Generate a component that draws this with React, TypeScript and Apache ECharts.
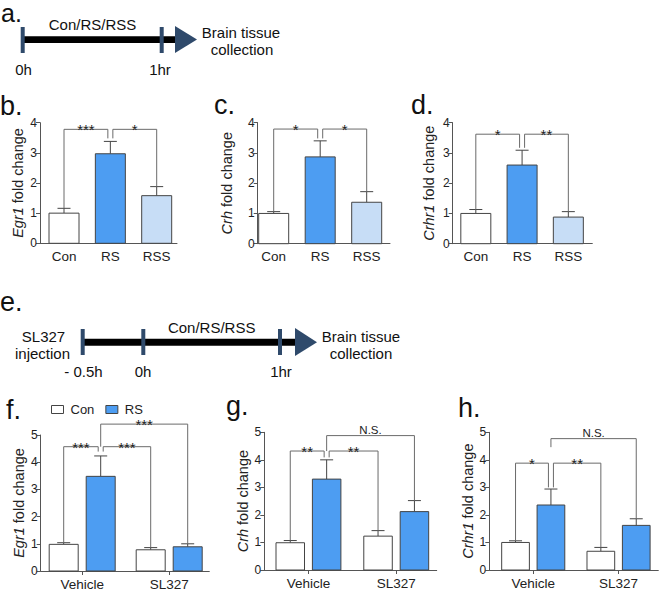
import React, { useEffect, useRef } from "react";
import * as echarts from "echarts";

// ---------------- data ----------------
const TOP_CATS = ["Con", "RS", "RSS"];
const GROUP_CATS = ["Vehicle", "SL327"];
const SERIES_NAMES = ["Con", "RS"];
const GENES_TOP = ["Egr1", "Crh", "Crhr1"];
const GENES_BOTTOM = ["Egr1", "Crh", "Crhr1"];

// panel b-d: mean and SEM for Con, RS, RSS
const egr1Mean = [1.0, 2.97, 1.58];
const egr1Sem = [0.16, 0.41, 0.3];
const crhMean = [1.0, 2.87, 1.37];
const crhSem = [0.06, 0.53, 0.35];
const crhr1Mean = [1.0, 2.6, 0.88];
const crhr1Sem = [0.13, 0.49, 0.18];

// panel f-h: [Vehicle, SL327]
const egr1ConMean = [0.98, 0.78];
const egr1ConSem = [0.06, 0.08];
const egr1RsMean = [3.48, 0.89];
const egr1RsSem = [0.75, 0.11];
const crhConMean = [0.99, 1.23];
const crhConSem = [0.08, 0.2];
const crhRsMean = [3.3, 2.12];
const crhRsSem = [0.7, 0.4];
const crhr1ConMean = [1.0, 0.68];
const crhr1ConSem = [0.06, 0.14];
const crhr1RsMean = [2.36, 1.62];
const crhr1RsSem = [0.58, 0.24];

// significance: [label, fromBar, toBar, bracketY, legEndFrom, legEndTo, sideFrom, sideTo]
const egr1Sig: any[] = [
  ["***", 0, 1, 3.78, 1.16, 3.48, 0, -1],
  ["*", 1, 2, 3.78, 3.48, 1.88, 1, 0],
];
const crhSig: any[] = [
  ["*", 0, 1, 3.79, 1.06, 3.48, 0, -1],
  ["*", 1, 2, 3.79, 3.48, 1.72, 1, 0],
];
const crhr1Sig: any[] = [
  ["*", 0, 1, 3.62, 1.12, 3.17, 0, -1],
  ["**", 1, 2, 3.62, 3.17, 1.06, 1, 0],
];
// bottom bars: 0 Con-Vehicle, 1 RS-Vehicle, 2 Con-SL327, 3 RS-SL327
const egr1SigB: any[] = [
  ["***", 0, 1, 4.57, 1.04, 4.39, 0, -1],
  ["***", 1, 2, 4.57, 4.39, 0.86, 1, 0],
  ["***", 1, 3, 5.4, 4.57, 1.0, 0, 0],
];
const crhSigB: any[] = [
  ["**", 0, 1, 4.32, 1.07, 4.09, 0, -1],
  ["**", 1, 2, 4.32, 4.09, 1.43, 1, 0],
  ["N.S.", 1, 3, 4.88, 4.32, 2.52, 0, 0],
];
const crhr1SigB: any[] = [
  ["*", 0, 1, 3.88, 1.06, 3.0, 0, -1],
  ["**", 1, 2, 3.88, 3.0, 0.82, 1, 0],
  ["N.S.", 1, 3, 4.77, 4.46, 1.86, 0, 0],
];

const TOP_Y_TICKS = [0, 1, 2, 3, 4];
const BOTTOM_Y_TICKS = [0, 1, 2, 3, 4, 5];

// ---------------- styles / layout ----------------
const NARROW = "'Liberation Sans Narrow','Arial Narrow','Liberation Sans',Arial,sans-serif";
const SANS = "'Liberation Sans',Arial,Helvetica,sans-serif";
const AXIS_C = "#555";
const EDGE_C = "#444";
const BRACKET_C = "#6a6a6a";
const TEXT_C = "#222";
const RS_BLUE = "#4d9df2";
const RSS_BLUE = "#c7ddf6";
const NAVY = "#2f4a6b";
const TOP_FILLS = ["#ffffff", RS_BLUE, RSS_BLUE];

const TOP_LAYOUT = [
  { left: 40, top: 122.7, width: 137, height: 120.6, xMin: 0.482, xMax: 3.438, nameGap: 15 },
  { left: 257.7, top: 122.7, width: 132.3, height: 121, xMin: 0.656, xMax: 3.501, nameGap: 23 },
  { left: 452.7, top: 122.7, width: 139.6, height: 121, xMin: 0.5, xMax: 3.518, nameGap: 16 },
];
const BOTTOM_LAYOUT = [
  { left: 40.7, top: 435, width: 168.6, height: 136.7, xMin: 0.523, xMax: 2.461, nameGap: 14, off: 18.5, bw: 29 },
  { left: 264.3, top: 432.3, width: 172.4, height: 137.7, xMin: 0.497, xMax: 2.461, nameGap: 12, off: 18.2, bw: 28.5 },
  { left: 489.3, top: 432.3, width: 169, height: 137.7, xMin: 0.485, xMax: 2.466, nameGap: 11, off: 17.7, bw: 27.7 },
];
const TOP_BW = 30;
const CAP = 13;
const LEG = 2.5;

function yAxisOpt(i: number, gene: string, ticks: number[], gap: number) {
  return {
    gridIndex: i,
    type: "value",
    min: ticks[0],
    max: ticks[ticks.length - 1],
    interval: 1,
    axisLine: { show: true, lineStyle: { color: AXIS_C, width: 1 } },
    axisTick: { show: true, length: 4, lineStyle: { color: AXIS_C } },
    axisLabel: { fontSize: 12, fontFamily: NARROW, color: TEXT_C, margin: 3 },
    splitLine: { show: false },
    name: `{i|${gene}} fold change`,
    nameLocation: "middle",
    nameGap: gap,
    nameTextStyle: {
      fontSize: 14.5,
      fontFamily: NARROW,
      color: TEXT_C,
      rich: { i: { fontStyle: "italic", fontSize: 14.5, fontFamily: NARROW, color: TEXT_C } },
    },
  };
}

function xAxisOpt(i: number, L: any, cats: string[], ticks: boolean) {
  const vals = cats.map((_, k) => k + 1);
  return {
    gridIndex: i,
    type: "value",
    min: L.xMin,
    max: L.xMax,
    axisLine: { show: true, onZero: false, lineStyle: { color: AXIS_C, width: 1 } },
    axisTick: { show: ticks, customValues: vals, length: 4, lineStyle: { color: AXIS_C } },
    axisLabel: {
      customValues: vals,
      formatter: (v: number) => cats[Math.round(v) - 1] ?? "",
      fontSize: 13.5,
      fontFamily: NARROW,
      color: TEXT_C,
      margin: 6,
    },
    splitLine: { show: false },
  };
}

function errorAndBar(api: any, cx: number, v: number, e: number, x: number, bw: number, fill: string) {
  const base = api.coord([x, 0]);
  const top = api.coord([x, v]);
  const et = api.coord([x, v + e]);
  return {
    type: "group",
    children: [
      { type: "line", shape: { x1: cx, y1: top[1], x2: cx, y2: et[1] }, style: { stroke: EDGE_C, lineWidth: 1 } },
      { type: "line", shape: { x1: cx - CAP / 2, y1: et[1], x2: cx + CAP / 2, y2: et[1] }, style: { stroke: EDGE_C, lineWidth: 1 } },
      {
        type: "rect",
        shape: { x: cx - bw / 2, y: top[1], width: bw, height: base[1] - top[1] },
        style: { fill, stroke: EDGE_C, lineWidth: 1 },
      },
    ],
  };
}

function sigSeries(i: number, sig: any[], barX: (api: any, idx: number) => number, fs: number) {
  return {
    type: "custom",
    xAxisIndex: i,
    yAxisIndex: i,
    clip: false,
    silent: true,
    z: 5,
    data: sig.map((r) => r.slice(1)),
    renderItem: (params: any, api: any) => {
      const a = api.value(0);
      const b = api.value(1);
      const yl = api.coord([1, api.value(2)])[1];
      const ya = api.coord([1, api.value(3)])[1];
      const yb = api.coord([1, api.value(4)])[1];
      const xa = barX(api, a) + api.value(5) * LEG;
      const xb = barX(api, b) + api.value(6) * LEG;
      const label = sig[params.dataIndex][0];
      const ns = label === "N.S.";
      const st = { stroke: BRACKET_C, lineWidth: 1 };
      return {
        type: "group",
        children: [
          { type: "polyline", shape: { points: [[xa, ya], [xa, yl], [xb, yl], [xb, yb]] }, style: { ...st, fill: "none" } },
          {
            type: "text",
            x: (xa + xb) / 2,
            y: ns ? yl - 6 : yl + 0.5,
            style: {
              text: label,
              fontSize: ns ? 11.5 : fs,
              fontFamily: ns ? NARROW : SANS,
              fill: TEXT_C,
              align: "center",
              textAlign: "center",
              verticalAlign: "middle",
              textVerticalAlign: "middle",
            },
          },
        ],
      };
    },
  };
}

function buildOption() {
  const grid: any[] = [];
  const xAxis: any[] = [];
  const yAxis: any[] = [];
  const series: any[] = [];

  const topMeans = [egr1Mean, crhMean, crhr1Mean];
  const topSems = [egr1Sem, crhSem, crhr1Sem];
  const topSig = [egr1Sig, crhSig, crhr1Sig];

  TOP_LAYOUT.forEach((L, i) => {
    grid.push({ left: L.left, top: L.top, width: L.width, height: L.height, containLabel: false });
    xAxis.push(xAxisOpt(i, L, TOP_CATS, false));
    yAxis.push(yAxisOpt(i, GENES_TOP[i], TOP_Y_TICKS, L.nameGap));
    const means = topMeans[i];
    const sems = topSems[i];
    series.push({
      type: "custom",
      name: "top" + i,
      xAxisIndex: i,
      yAxisIndex: i,
      clip: false,
      data: means.map((m, k) => [k + 1, m, sems[k]]),
      renderItem: (params: any, api: any) => {
        const x = api.value(0);
        const cx = api.coord([x, 0])[0];
        return errorAndBar(api, cx, api.value(1), api.value(2), x, TOP_BW, TOP_FILLS[params.dataIndex]);
      },
    });
    series.push(sigSeries(i, topSig[i], (api, idx) => api.coord([idx + 1, 0])[0], 15));
  });

  const conMeans = [egr1ConMean, crhConMean, crhr1ConMean];
  const conSems = [egr1ConSem, crhConSem, crhr1ConSem];
  const rsMeans = [egr1RsMean, crhRsMean, crhr1RsMean];
  const rsSems = [egr1RsSem, crhRsSem, crhr1RsSem];
  const botSig = [egr1SigB, crhSigB, crhr1SigB];

  BOTTOM_LAYOUT.forEach((L, j) => {
    const i = j + 3;
    grid.push({ left: L.left, top: L.top, width: L.width, height: L.height, containLabel: false });
    xAxis.push(xAxisOpt(i, L, GROUP_CATS, true));
    yAxis.push(yAxisOpt(i, GENES_BOTTOM[j], BOTTOM_Y_TICKS, L.nameGap));
    const sets = [
      { name: SERIES_NAMES[0], m: conMeans[j], s: conSems[j], fill: "#ffffff", sub: -1 },
      { name: SERIES_NAMES[1], m: rsMeans[j], s: rsSems[j], fill: RS_BLUE, sub: 1 },
    ];
    sets.forEach((S) => {
      series.push({
        type: "custom",
        name: S.name,
        xAxisIndex: i,
        yAxisIndex: i,
        clip: false,
        itemStyle: { color: S.fill, borderColor: EDGE_C, borderWidth: 1 },
        data: S.m.map((m, k) => [k + 1, m, S.s[k]]),
        renderItem: (params: any, api: any) => {
          const x = api.value(0);
          const cx = api.coord([x, 0])[0] + S.sub * L.off;
          return errorAndBar(api, cx, api.value(1), api.value(2), x, L.bw, S.fill);
        },
      });
    });
    series.push(
      sigSeries(
        i,
        botSig[j],
        (api, idx) => api.coord([Math.floor(idx / 2) + 1, 0])[0] + (idx % 2 === 0 ? -1 : 1) * L.off,
        15
      )
    );
  });

  const txt = (t: string, x: number, y: number, fs: number, align = "center", family = SANS) => ({
    type: "text",
    x,
    y,
    silent: true,
    style: {
      text: t,
      fontSize: fs,
      fontFamily: family,
      fill: "#111",
      align,
      textAlign: align,
      verticalAlign: "middle",
      textVerticalAlign: "middle",
    },
  });
  const tick = (x: number, y1: number, y2: number) => ({
    type: "rect",
    shape: { x: x - 2, y: y1, width: 4, height: y2 - y1 },
    style: { fill: NAVY },
  });

  const graphic: any[] = [
    // panel letters
    txt("a.", 1, 13, 25, "left"),
    txt("b.", 0, 106, 27, "left"),
    txt("c.", 214, 105, 27, "left"),
    txt("d.", 411, 105, 27, "left"),
    txt("e.", 0, 302, 27, "left"),
    txt("f.", 6, 410, 27, "left"),
    txt("g.", 226, 406, 27, "left"),
    txt("h.", 458, 408, 27, "left"),
    // timeline a
    { type: "rect", shape: { x: 22.7, y: 36.3, width: 154, height: 6.7 }, style: { fill: "#000" } },
    tick(22.7, 27, 53),
    tick(161.7, 27, 53),
    { type: "polygon", shape: { points: [[175, 26], [197, 39.6], [175, 53]] }, style: { fill: NAVY } },
    txt("Con/RS/RSS", 92.5, 24, 15),
    txt("0h", 23.5, 69, 15),
    txt("1hr", 160, 69, 15),
    txt("Brain tissue", 241, 32, 15),
    txt("collection", 242, 49, 15),
    // timeline e
    { type: "rect", shape: { x: 82.7, y: 338.7, width: 214, height: 7 }, style: { fill: "#000" } },
    tick(82.7, 329, 355),
    tick(143.3, 329, 355),
    tick(280, 329, 355),
    { type: "polygon", shape: { points: [[295, 328], [317, 342.2], [295, 356]] }, style: { fill: NAVY } },
    txt("SL327", 43.5, 336, 15),
    txt("injection", 42.5, 353, 15),
    txt("- 0.5h", 83.5, 371, 15),
    txt("0h", 143, 371, 15),
    txt("1hr", 281, 371, 15),
    txt("Con/RS/RSS", 211.7, 327.5, 15),
    txt("Brain tissue", 361, 336, 15),
    txt("collection", 361, 353, 15),
  ];

  return {
    animation: false,
    backgroundColor: "#ffffff",
    textStyle: { fontFamily: SANS },
    grid,
    xAxis,
    yAxis,
    series,
    graphic,
    legend: {
      show: true,
      left: 46,
      top: 398,
      orient: "horizontal",
      icon: "rect",
      itemWidth: 12,
      itemHeight: 8,
      itemGap: 11,
      selectedMode: false,
      textStyle: { fontSize: 13, fontFamily: NARROW, color: TEXT_C, padding: [0, 0, 0, 2] },
      data: [
        { name: SERIES_NAMES[0], itemStyle: { color: "#ffffff", borderColor: EDGE_C, borderWidth: 1 } },
        { name: SERIES_NAMES[1], itemStyle: { color: RS_BLUE, borderColor: EDGE_C, borderWidth: 1 } },
      ],
    },
  };
}

export default function App() {
  const ref = useRef<HTMLDivElement>(null);
  useEffect(() => {
    if (!ref.current) return;
    const chart = echarts.init(ref.current, undefined, { renderer: "svg" });
    chart.setOption(buildOption() as any);
    return () => chart.dispose();
  }, []);
  return (
    <div
      ref={ref}
      style={{ position: "fixed", left: 0, top: 0, width: 660, height: 591, background: "#fff" }}
    />
  );
}
